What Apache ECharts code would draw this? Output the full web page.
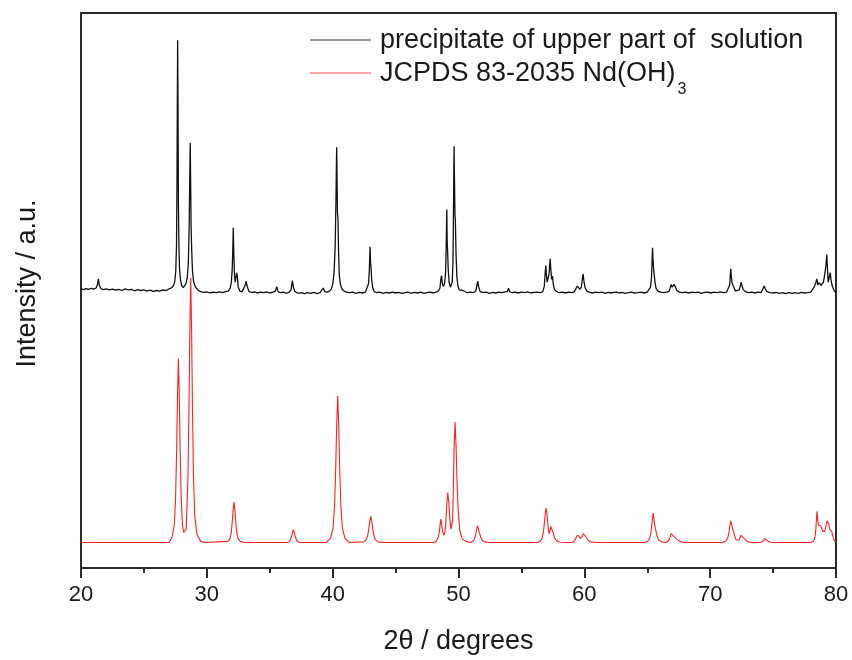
<!DOCTYPE html>
<html>
<head>
<meta charset="utf-8">
<script src="https://cdn.jsdelivr.net/npm/echarts@6/dist/echarts.min.js"></script>
<style>
html,body{margin:0;padding:0;background:#fff;}
#chart{width:852px;height:660px;}
</style>
</head>
<body>
<div id="chart"></div>
<script>
// ---- data (2-theta in degrees, intensity in arbitrary units) ----
const xTicks = [20, 30, 40, 50, 60, 70, 80];
const seriesNames = ['precipitate of upper part of  solution', 'JCPDS 83-2035 Nd(OH)'];
const subscriptText = '3';

const samplePattern = [
[20.00,50.3],[20.2,50.15],[20.4,50.35],[20.6,50.2],[20.8,50.4],[21.0,50.25],[21.2,50.45],[21.3,51.0],[21.38,52.1],[21.46,50.9],[21.6,50.3],[21.8,50.15],[22.0,50.3],[22.25,50.1],[22.5,50.25],[22.75,50.05],[23.0,50.2],[23.25,50.0],[23.5,50.3],[23.75,50.1],[24.0,50.2],[24.25,49.95],[24.5,50.15],[24.75,50.0],[25.0,50.1],[25.25,49.9],[25.5,50.05],[25.75,49.85],[26.0,50.0],[26.25,49.9],[26.5,50.1],[26.75,50.0],[27.0,50.3],[27.2,50.5],[27.35,50.9],[27.45,51.6],[27.53,53.5],[27.59,58],[27.63,70],[27.66,86],[27.68,95.1],[27.71,84],[27.74,66],[27.78,58],[27.83,54],[27.9,52],[28.0,50.9],[28.13,50.5],[28.25,50.8],[28.35,51.3],[28.45,52.5],[28.53,55],[28.6,62],[28.64,70],[28.68,76.6],[28.72,68],[28.75,61.5],[28.8,57],[28.86,53.5],[28.95,51.6],[29.1,50.6],[29.3,50.1],[29.5,49.8],[29.75,49.65],[30.0,49.75],[30.25,49.55],[30.5,49.7],[30.75,49.6],[31.0,49.75],[31.25,49.6],[31.5,49.8],[31.7,49.9],[31.85,50.4],[31.95,51.5],[32.02,54],[32.07,58],[32.1,61.3],[32.14,57],[32.19,53],[32.25,51.5],[32.31,51.8],[32.37,53.2],[32.42,52.6],[32.5,50.6],[32.62,49.9],[32.8,49.75],[32.95,50.1],[33.05,51.0],[33.12,51.7],[33.2,50.8],[33.35,49.8],[33.55,49.65],[33.8,49.75],[34.0,49.55],[34.25,49.7],[34.5,49.6],[34.75,49.75],[35.0,49.55],[35.25,49.7],[35.45,49.9],[35.56,50.7],[35.66,49.8],[35.85,49.6],[36.1,49.7],[36.35,49.5],[36.55,49.7],[36.7,50.2],[36.8,51.8],[36.88,50.6],[37.0,49.8],[37.25,49.5],[37.5,49.6],[37.75,49.45],[38.0,49.6],[38.25,49.5],[38.5,49.65],[38.75,49.45],[39.0,49.6],[39.15,49.7],[39.26,50.45],[39.36,49.8],[39.55,49.7],[39.75,49.9],[39.9,50.3],[40.02,51.3],[40.12,53.5],[40.2,58],[40.26,66],[40.3,73],[40.32,75.8],[40.35,70],[40.38,64],[40.42,63.1],[40.46,58],[40.52,53],[40.6,51.3],[40.72,50.3],[40.9,49.9],[41.1,49.7],[41.35,49.6],[41.6,49.7],[41.85,49.5],[42.1,49.65],[42.35,49.55],[42.6,49.7],[42.75,50.0],[42.85,51.2],[42.92,54],[42.97,57.9],[43.01,55],[43.05,54.1],[43.1,52],[43.18,50.5],[43.3,49.8],[43.5,49.6],[43.75,49.7],[44.0,49.5],[44.25,49.65],[44.5,49.55],[44.75,49.7],[45.0,49.55],[45.25,49.65],[45.5,49.5],[45.75,49.6],[46.0,49.7],[46.25,49.5],[46.5,49.65],[46.75,49.55],[47.0,49.7],[47.25,49.5],[47.5,49.6],[47.75,49.7],[48.0,49.55],[48.2,49.7],[48.4,49.9],[48.52,50.4],[48.6,52.0],[48.65,52.7],[48.72,51.2],[48.8,50.7],[48.9,51.3],[48.98,53.5],[49.03,59],[49.07,64.6],[49.1,59],[49.13,57.4],[49.18,54],[49.25,51.5],[49.35,50.6],[49.42,50.5],[49.5,51.5],[49.56,55],[49.6,64],[49.63,72],[49.65,76.0],[49.68,70],[49.72,63.5],[49.75,62.7],[49.8,57],[49.87,52.5],[49.95,50.9],[50.05,50.1],[50.2,49.8],[50.35,50.0],[50.42,50.3],[50.5,49.9],[50.7,49.6],[50.95,49.7],[51.2,49.6],[51.38,49.9],[51.47,51.0],[51.53,51.7],[51.6,50.7],[51.72,49.8],[51.95,49.6],[52.2,49.7],[52.45,49.5],[52.7,49.65],[52.95,49.55],[53.2,49.7],[53.45,49.6],[53.7,49.75],[53.88,49.8],[53.97,50.4],[54.06,49.8],[54.25,49.6],[54.5,49.7],[54.75,49.55],[55.0,49.7],[55.25,49.6],[55.5,49.75],[55.75,49.55],[56.0,49.65],[56.25,49.7],[56.5,49.6],[56.7,49.8],[56.82,50.8],[56.9,53.5],[56.94,54.5],[56.98,53.0],[57.05,51.5],[57.12,51.3],[57.2,53.0],[57.28,55.7],[57.33,54.0],[57.4,52.0],[57.47,52.6],[57.53,51.2],[57.62,50.2],[57.8,49.8],[58.0,49.6],[58.25,49.7],[58.5,49.55],[58.75,49.7],[59.0,49.6],[59.2,49.75],[59.35,50.1],[59.44,50.8],[59.48,51.1],[59.55,50.5],[59.65,50.2],[59.76,50.6],[59.84,52.0],[59.9,53.0],[59.96,51.8],[60.05,50.6],[60.2,49.9],[60.4,49.7],[60.65,49.55],[60.9,49.7],[61.15,49.6],[61.4,49.7],[61.65,49.5],[61.9,49.65],[62.15,49.55],[62.35,49.65],[62.45,50.0],[62.55,49.7],[62.75,49.55],[63.0,49.65],[63.25,49.5],[63.5,49.6],[63.75,49.7],[64.0,49.55],[64.25,49.6],[64.5,49.7],[64.75,49.55],[65.0,49.7],[65.15,49.9],[65.26,50.6],[65.34,52.5],[65.39,55.5],[65.42,57.7],[65.46,55.5],[65.51,53.8],[65.55,53.5],[65.61,51.6],[65.7,50.4],[65.85,49.9],[66.05,49.7],[66.3,49.6],[66.55,49.7],[66.75,49.9],[66.84,50.6],[66.9,51.1],[66.97,50.6],[67.06,50.5],[67.12,51.1],[67.16,51.4],[67.22,50.7],[67.35,50.0],[67.55,49.7],[67.8,49.6],[68.05,49.7],[68.3,49.55],[68.55,49.7],[68.8,49.6],[69.05,49.7],[69.3,49.5],[69.55,49.65],[69.8,49.7],[70.05,49.55],[70.3,49.7],[70.55,49.6],[70.8,49.75],[71.05,49.6],[71.3,49.7],[71.45,49.9],[71.55,51.0],[71.6,52.8],[71.64,53.9],[71.68,52.6],[71.74,51.3],[71.8,51.4],[71.88,50.6],[72.0,49.9],[72.15,49.8],[72.3,50.1],[72.4,50.8],[72.46,51.5],[72.52,50.9],[72.62,50.2],[72.8,49.8],[73.05,49.6],[73.3,49.7],[73.55,49.55],[73.8,49.7],[74.05,49.6],[74.2,49.9],[74.29,50.8],[74.36,50.4],[74.5,49.8],[74.75,49.6],[75.0,49.55],[75.25,49.65],[75.5,49.5],[75.75,49.6],[76.0,49.45],[76.25,49.6],[76.5,49.5],[76.75,49.6],[77.0,49.5],[77.25,49.65],[77.5,49.55],[77.75,49.6],[78.0,49.7],[78.15,50.0],[78.28,50.7],[78.38,51.3],[78.44,51.6],[78.48,52.1],[78.55,51.0],[78.62,51.2],[78.68,51.4],[78.74,51.6],[78.8,50.9],[78.9,50.8],[79.0,51.5],[79.1,52.8],[79.2,54.5],[79.27,56.5],[79.32,54.0],[79.38,51.5],[79.45,51.4],[79.54,53.2],[79.6,52.0],[79.7,50.8],[79.85,50.0],[80.0,49.6]
];

const referencePattern = [
[20.0,4.6],[27.0,4.6],[27.24,5.6],[27.42,7.9],[27.52,12.9],[27.60,21.2],[27.67,31.1],[27.74,37.7],[27.81,31.1],[27.88,21.2],[27.96,12.9],[28.06,7.9],[28.16,6.4],[28.26,6.1],[28.36,7.0],[28.40,9.7],[28.50,16.5],[28.58,28.5],[28.65,42.8],[28.72,52.3],[28.79,42.8],[28.86,28.5],[28.94,16.5],[29.04,9.4],[29.22,6.0],[29.52,4.8],[29.9,4.6],
[31.66,4.8],[31.84,5.3],[31.94,6.4],[32.02,8.3],[32.09,10.4],[32.16,11.9],[32.23,10.4],[32.30,8.3],[32.38,6.4],[32.48,5.3],[32.66,4.8],[33.0,4.6],
[36.4,4.6],[36.56,4.8],[36.66,5.2],[36.74,5.75],[36.81,6.4],[36.88,6.9],[36.95,6.4],[37.02,5.75],[37.10,5.2],[37.20,4.8],[37.4,4.6],
[39.5,4.6],[39.83,5.4],[40.03,7.2],[40.15,11.2],[40.24,17.8],[40.32,25.7],[40.40,31.0],[40.48,25.7],[40.56,17.8],[40.65,11.2],[40.77,7.2],[40.97,5.4],[41.3,4.6],
[42.46,4.7],[42.66,5.1],[42.78,5.8],[42.87,7.0],[42.95,8.4],[43.03,9.3],[43.11,8.4],[43.19,7.0],[43.28,5.8],[43.40,5.1],[43.60,4.7],[44.0,4.6],
[48.0,4.6],[48.2,4.75],[48.3,5.0],[48.4,5.6],[48.48,6.6],[48.54,7.8],[48.60,8.8],[48.66,7.9],[48.74,6.6],[48.84,5.9],[48.92,6.4],[49.0,8.3],[49.07,11.6],[49.15,13.6],[49.23,11.8],[49.31,8.9],[49.40,7.0],[49.47,6.7],[49.53,8.5],[49.58,13.0],[49.65,21.8],[49.73,26.3],[49.81,21.6],[49.89,15.0],[49.98,10.2],[50.10,6.8],[50.30,5.2],[50.7,4.7],[51.0,4.6],
[51.1,4.65],[51.22,5.0],[51.32,5.6],[51.40,6.4],[51.46,7.1],[51.52,7.6],[51.58,7.1],[51.66,6.4],[51.76,5.6],[51.88,5.0],[52.1,4.7],[52.5,4.6],
[56.3,4.6],[56.52,4.9],[56.66,5.5],[56.76,6.7],[56.84,8.4],[56.90,10.0],[56.96,10.8],[57.03,9.8],[57.10,8.0],[57.2,6.2],[57.27,6.6],[57.34,7.5],[57.40,7.8],[57.46,7.2],[57.54,6.2],[57.64,5.4],[57.80,4.9],[58.1,4.65],[58.5,4.6],
[59.0,4.6],[59.2,4.8],[59.32,5.3],[59.40,5.8],[59.48,6.1],[59.56,5.8],[59.66,5.3],[59.74,5.25],[59.84,5.7],[59.92,6.2],[59.98,6.4],[60.06,6.1],[60.16,5.5],[60.30,5.0],[60.5,4.7],[60.9,4.6],
[64.8,4.6],[65.05,4.85],[65.2,5.4],[65.3,6.5],[65.38,8.2],[65.47,9.9],[65.53,8.8],[65.6,7.7],[65.68,6.8],[65.78,5.7],[65.92,5.0],[66.2,4.7],[66.5,4.6],
[66.7,4.9],[66.82,5.6],[66.9,6.2],[66.96,6.4],[67.04,6.0],[67.14,5.6],[67.26,5.4],[67.36,5.2],[67.5,4.9],[67.7,4.7],[68.0,4.6],
[71.0,4.6],[71.25,4.85],[71.4,5.4],[71.5,6.5],[71.58,7.8],[71.64,8.5],[71.71,7.8],[71.78,7.0],[71.86,6.6],[71.95,5.8],[72.05,5.1],[72.15,4.8],[72.28,5.0],[72.38,5.5],[72.46,5.9],[72.52,6.0],[72.6,5.7],[72.7,5.3],[72.82,4.95],[73.0,4.7],[73.4,4.6],
[74.0,4.6],[74.2,4.85],[74.3,5.2],[74.36,5.3],[74.44,5.15],[74.56,4.9],[74.8,4.65],[75.2,4.6],
[78.0,4.6],[78.2,4.8],[78.32,5.4],[78.4,7.0],[78.45,9.0],[78.49,10.2],[78.55,8.5],[78.62,7.7],[78.7,7.8],[78.78,7.6],[78.86,7.2],[78.94,6.6],[79.02,6.4],[79.1,6.6],[79.2,7.5],[79.28,8.5],[79.35,8.8],[79.42,8.0],[79.5,7.0],[79.58,7.0],[79.66,6.6],[79.76,5.6],[79.88,4.9],[80.0,4.7]
];

// ---- chart ----
const FONT = '"Liberation Sans", Arial, sans-serif';
const TEXT = '#1a1a1a';
const AXIS = '#2b2b2b';
const BLACK = '#111111';
const RED = '#ff1f1f';

const chart = echarts.init(document.getElementById('chart'), null, {renderer: 'canvas'});

// measure legend text width for subscript placement
const mctx = document.createElement('canvas').getContext('2d');
mctx.font = '27px ' + FONT;
const legendTextX = 380;
const subX = legendTextX + mctx.measureText(seriesNames[1]).width + 2;

const option = {
  animation: false,
  backgroundColor: '#ffffff',
  textStyle: {fontFamily: FONT},
  grid: {left: 81, right: 16, top: 13, bottom: 90, show: true, borderColor: AXIS, borderWidth: 2, backgroundColor: 'transparent'},
  xAxis: {
    type: 'value', min: xTicks[0], max: xTicks[xTicks.length - 1], interval: 10,
    name: '2\u03B8 / degrees', nameLocation: 'middle', nameGap: 60,
    nameTextStyle: {fontSize: 27, color: TEXT, fontFamily: FONT},
    axisLine: {show: true, onZero: false, lineStyle: {color: AXIS, width: 2}},
    axisTick: {show: true, inside: false, length: 10, lineStyle: {color: AXIS, width: 2}},
    minorTick: {show: true, splitNumber: 2, length: 5, lineStyle: {color: AXIS, width: 2}},
    axisLabel: {fontSize: 22, color: TEXT, margin: 16, fontFamily: FONT},
    splitLine: {show: false}
  },
  yAxis: {
    type: 'value', min: 0, max: 100,
    name: 'Intensity / a.u.', nameLocation: 'middle', nameGap: 40, nameRotate: 90,
    nameTextStyle: {fontSize: 27, color: TEXT, fontFamily: FONT, padding: [0, 0, 0, 14]},
    axisLine: {show: true, lineStyle: {color: AXIS, width: 2}},
    axisTick: {show: false}, axisLabel: {show: false}, splitLine: {show: false}
  },
  series: [
    {name: seriesNames[0], type: 'line', data: samplePattern, showSymbol: false, symbol: 'none',
     lineStyle: {color: BLACK, width: 1.3}, itemStyle: {color: BLACK}, z: 2},
    {name: seriesNames[1], type: 'line', data: referencePattern, showSymbol: false, symbol: 'none',
     lineStyle: {color: RED, width: 1.1}, itemStyle: {color: RED}, z: 3}
  ],
  graphic: [
    {type: 'line', shape: {x1: 310, y1: 40, x2: 371, y2: 40}, style: {stroke: '#333', lineWidth: 1.2}},
    {type: 'line', shape: {x1: 310, y1: 73, x2: 371, y2: 73}, style: {stroke: '#ff4a4a', lineWidth: 1.2}},
    {type: 'text', x: legendTextX, y: 41, style: {text: seriesNames[0], font: '27px ' + FONT, fill: TEXT, verticalAlign: 'middle'}},
    {type: 'text', x: legendTextX, y: 74, style: {text: seriesNames[1], font: '27px ' + FONT, fill: TEXT, verticalAlign: 'middle'}},
    {type: 'text', x: subX, y: 90, style: {text: subscriptText, font: '16px ' + FONT, fill: TEXT, verticalAlign: 'middle'}}
  ]
};
chart.setOption(option);
</script>
</body>
</html>
